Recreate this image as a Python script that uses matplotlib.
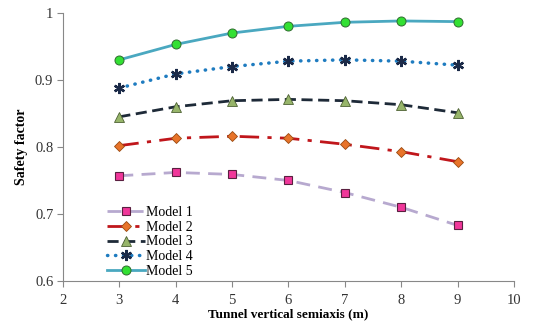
import matplotlib
matplotlib.use("Agg")
import matplotlib.pyplot as plt
from matplotlib.ticker import FuncFormatter

plt.rcParams['font.family'] = ['Liberation Serif', 'DejaVu Serif']

semiaxis = [3, 4, 5, 6, 7, 8, 9]
model1 = [0.757, 0.762, 0.759, 0.750, 0.732, 0.710, 0.683]
model2 = [0.802, 0.813, 0.816, 0.813, 0.804, 0.793, 0.778]
model3 = [0.845, 0.860, 0.869, 0.871, 0.869, 0.863, 0.851]
model4 = [0.888, 0.909, 0.920, 0.928, 0.930, 0.928, 0.922]
model5 = [0.930, 0.953, 0.970, 0.980, 0.986, 0.988, 0.987]
labels = ['Model 1', 'Model 2', 'Model 3', 'Model 4', 'Model 5']

fig = plt.figure(figsize=(5.45, 3.31), dpi=100)
ax = fig.add_axes([0.1156, 0.151, 0.8274, 0.81])

ax.plot(semiaxis, model1, color='#b7a9cf', lw=2, dashes=(5, 3),
        marker='s', ms=6, mfc='#f0379a', mec='#5a2040', mew=0.8, label=labels[0])
ax.plot(semiaxis, model2, color='#c0161b', lw=2, dashes=(7, 3, 1.5, 3),
        marker='D', ms=5, mfc='#e8742a', mec='#9a4a10', mew=0.6, label=labels[1])
ax.plot(semiaxis, model3, color='#1e2a38', lw=2, dashes=(4, 2),
        marker='^', ms=7, mfc='#97b56a', mec='#4d6133', mew=0.6, label=labels[2])
ax.plot(semiaxis, model4, color='#1f7cc0', lw=2.5, linestyle=(0, (0.1, 2.2)),
        dash_capstyle='round', marker=(6, 2, 0), ms=8, mec='#1b2a48', mew=1.7,
        label=labels[3])
ax.plot(semiaxis, model5, color='#4aa8c0', lw=2,
        marker='o', ms=6.5, mfc='#33e033', mec='#2f6b2f', mew=0.7, label=labels[4])

ax.set_xlim(2, 10)
ax.set_ylim(0.6, 1.0)
ax.set_xticks(range(2, 11))
ax.set_yticks([0.6, 0.7, 0.8, 0.9, 1.0])
ax.yaxis.set_major_formatter(FuncFormatter(lambda v, p: '1' if abs(v - 1) < 1e-9 else f'{v:.1f}'))
ax.spines['top'].set_visible(False)
ax.spines['right'].set_visible(False)
for s in ('left', 'bottom'):
    ax.spines[s].set_color('#888888')
    ax.spines[s].set_linewidth(0.8)
ax.tick_params(direction='out', length=4, color='#888888', labelcolor='#333333',
               labelsize=10.5, pad=5)
ax.tick_params(axis='y', pad=3)

ax.set_xlabel('Tunnel vertical semiaxis (m)', fontweight='bold', fontsize=9.5, labelpad=1)
ax.set_ylabel('Safety factor', fontweight='bold', fontsize=10, labelpad=5)

ax.legend(loc='lower left', bbox_to_anchor=(0.08, -0.02), frameon=False,
          fontsize=10, handlelength=2.7, handletextpad=0.1, labelspacing=0.13,
          borderaxespad=0.2)

fig.savefig('out.png', dpi=100)
